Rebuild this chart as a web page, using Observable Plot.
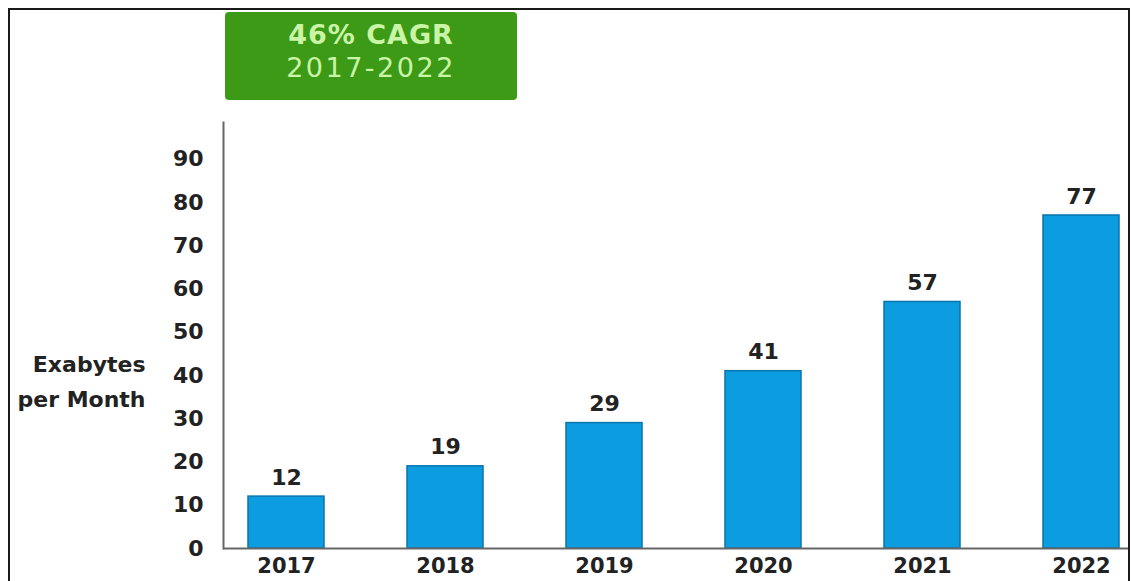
<!DOCTYPE html>
<html>
<head>
<meta charset="utf-8">
<script src="https://cdn.jsdelivr.net/npm/d3@7"></script>
<script src="https://cdn.jsdelivr.net/npm/@observablehq/plot@0.6"></script>
<style>
  html, body { margin: 0; padding: 0; background: #fff; overflow: hidden; }
  #wrap { position: relative; width: 1131px; height: 581px; overflow: hidden; }
  #border { position: absolute; left: 8px; top: 8px; width: 1122px; height: 600px; border: 2px solid #1a1a1a; box-sizing: border-box; }
  #chart { position: absolute; left: 0; top: 0; }
  #badge { position: absolute; left: 225px; top: 12px; width: 292px; height: 88px; background: #3c9a17; border-radius: 4px;
           color: #caf5a6; font-family: "DejaVu Sans", sans-serif; text-align: center; }
  #badge .l1 { font-weight: bold; font-size: 27px; letter-spacing: 1px; margin-top: 7px; line-height: 32px; }
  #badge .l2 { font-size: 27px; letter-spacing: 2.5px; line-height: 34px; margin-top: 0px; }
</style>
</head>
<body>
<div id="wrap">
  <div id="border"></div>
  <div id="chart"></div>
  <div id="badge"><div class="l1">46% CAGR</div><div class="l2">2017-2022</div></div>
</div>
<script>
const years = ["2017", "2018", "2019", "2020", "2021", "2022"];
const values = [12, 19, 29, 41, 57, 77];
const yTicks = [0, 10, 20, 30, 40, 50, 60, 70, 80, 90];
const yLabel = "Exabytes\nper Month";

const data = years.map((year, i) => ({year, value: values[i]}));
const font = "DejaVu Sans, sans-serif";

const chart = Plot.plot({
  width: 1131,
  height: 581,
  marginLeft: 223,
  marginRight: 3,
  marginTop: 122,
  marginBottom: 33,
  style: {fontFamily: font, fontSize: "22px", fontWeight: "bold", color: "#222", background: "transparent"},
  x: {domain: years, paddingInner: 0.52, paddingOuter: 0, insetLeft: 23, insetRight: 6, label: null},
  y: {domain: [0, 98.5], label: null},
  marks: [
    Plot.barY(data, {x: "year", y: "value", fill: "#0c9de0", stroke: "#0a74ad", strokeWidth: 1.5}),
    Plot.ruleY([0], {stroke: "#666", strokeWidth: 2}),
    Plot.frame({anchor: "left", stroke: "#666", strokeWidth: 2}),
    Plot.axisY({ticks: yTicks, tickSize: 0, tickPadding: 20, label: null, fill: "#222", fontWeight: "bold"}),
    Plot.axisX({tickSize: 0, tickPadding: 10, fontSize: 21, label: null, fill: "#222", fontWeight: "bold"}),
    Plot.text(data, {x: "year", y: "value", text: d => String(d.value), dy: -19, fontSize: 22, fontWeight: "bold", fill: "#222"}),
    Plot.text([yLabel], {frameAnchor: "left", dx: -78, dy: 43, textAnchor: "end", lineHeight: 1.6, fontSize: 22, fontWeight: "bold", fill: "#222"})
  ]
});
document.getElementById("chart").appendChild(chart);
</script>
</body>
</html>
